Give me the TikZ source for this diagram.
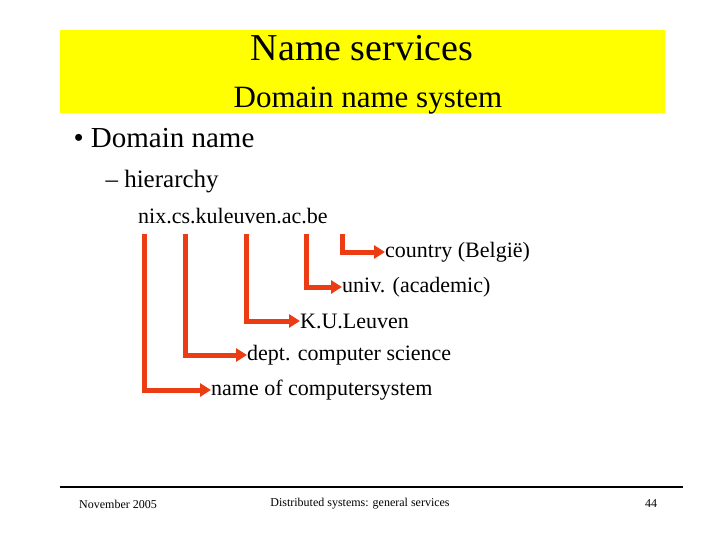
\documentclass[tikz,border=0pt]{standalone}
\usepackage{fontspec}
\setmainfont{Liberation Serif}
\usetikzlibrary{arrows.meta}
\definecolor{arr}{RGB}{235,60,20}
\definecolor{ylw}{RGB}{255,255,0}
\tikzset{conn/.style={draw=arr,line width=5pt,-{Triangle[length=11pt,width=13pt]}},
 item/.style={anchor=west,inner sep=0pt,font=\fontsize{22}{24}\selectfont},
 foot/.style={font=\fontsize{12}{14}\selectfont}}
\begin{document}
\begin{tikzpicture}[x=1pt,y=-1pt]
\useasboundingbox (0,0) rectangle (720,540);
\fill[ylw] (60,30) rectangle (665,113);
\node (t1) at (362,48) {\fontsize{38}{40}\selectfont Name services};
\node (t2) at (368,101) {\fontsize{31}{33}\selectfont Domain name system};
\node[anchor=west] (b1) at (70,138) {\fontsize{29}{31}\selectfont • Domain name};
\node[anchor=west] (b2) at (102,182) {\fontsize{25}{27}\selectfont – hierarchy};
\node[item] (nix) at (138,216) {nix.cs.kuleuven.ac.be};
\node[item] (c) at (385,252) {country (België)};
\node[item] (u) at (342,287) {univ. (academic)};
\node[item] (k) at (300,321) {K.U.Leuven};
\node[item] (d) at (247,355) {dept. computer science};
\node[item] (n) at (211,390) {name of computersystem};
\coordinate (s1) at (144,234);
\coordinate (s2) at (185,234);
\coordinate (s3) at (246,234);
\coordinate (s4) at (306,234);
\coordinate (s5) at (342,234);
\draw[conn] (s5) |- (c.west);
\draw[conn] (s4) |- (u.west);
\draw[conn] (s3) |- (k.west);
\draw[conn] (s2) |- (d.west);
\draw[conn] (s1) |- (n.west);
\draw[line width=1.5pt] (60,487) -- (683,487);
\node[foot] (f1) at (118,504) {November 2005};
\node[foot] (f2) at (360,504) {Distributed systems: general services};
\node[foot] (f3) at (651,504) {44};
\end{tikzpicture}
\end{document}
